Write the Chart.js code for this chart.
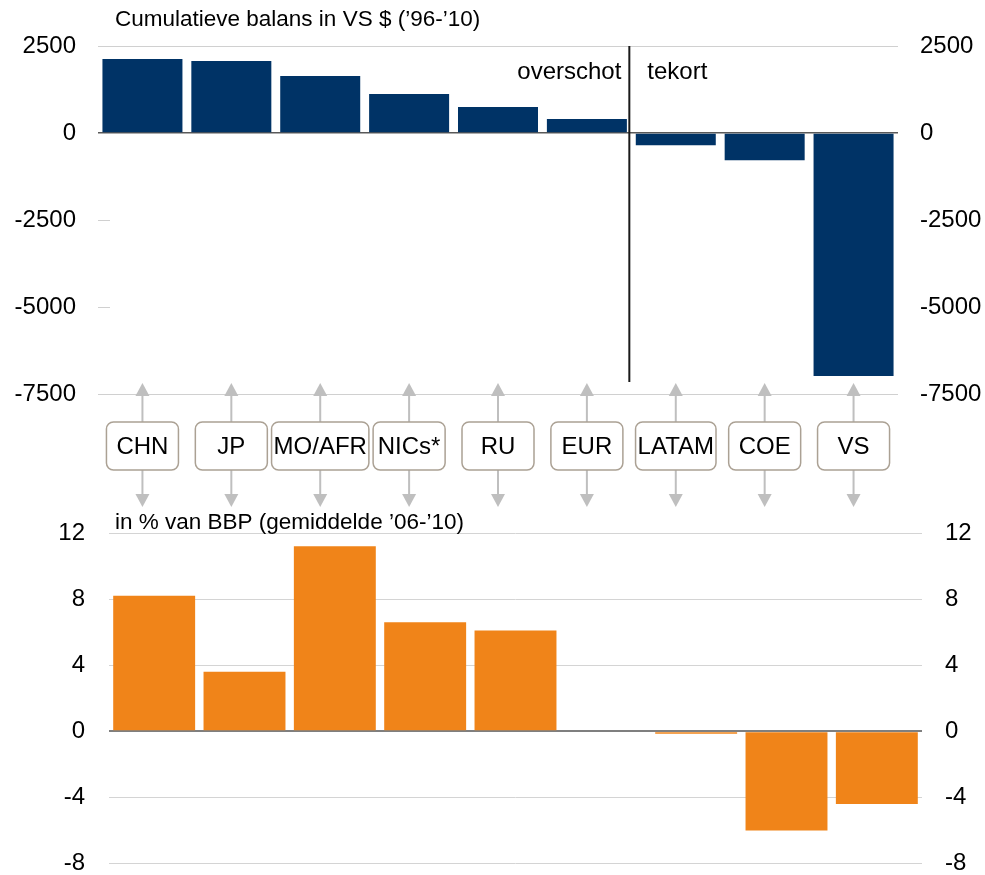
<!DOCTYPE html>
<html>
<head>
<meta charset="utf-8">
<title>Balans</title>
<script src="https://cdn.jsdelivr.net/npm/chart.js@4"></script>
<style>
  body { margin: 0; background: #fff; overflow: hidden; }
  #wrap { position: relative; width: 985px; height: 875px; overflow: hidden; }
  canvas { position: absolute; left: 0; }
  #top { top: 0; }
  #bottom { top: 505px; }
</style>
</head>
<body>
<div id="wrap">
  <canvas id="top" width="985" height="508"></canvas>
  <canvas id="bottom" width="985" height="373"></canvas>
</div>
<script>
// regio's (zelfde volgorde in beide grafieken)
const regios = ['CHN', 'JP', 'MO/AFR', 'NICs*', 'RU', 'EUR', 'LATAM', 'COE', 'VS'];
// cumulatieve balans in VS $ ('96-'10)
const cumBalans = [2130, 2070, 1640, 1120, 750, 400, -350, -780, -6980];
// in % van BBP (gemiddelde '06-'10)
const pctBBP = [8.2, 3.6, 11.2, 6.6, 6.1, 0, -0.15, -6.0, -4.4];
const tickBoven = [2500, 0, -2500, -5000, -7500];
const tickOnder = [12, 8, 4, 0, -4, -8];

const titelBoven = 'Cumulatieve balans in VS $ (\u201996-\u201910)';
const titelOnder = 'in % van BBP (gemiddelde \u201906-\u201910)';

Chart.defaults.font.family = "'Liberation Sans', Arial, sans-serif";
Chart.defaults.color = '#000';

const FONT = "24px 'Liberation Sans', Arial, sans-serif";
const FONT_TITEL = "22.5px 'Liberation Sans', Arial, sans-serif";

// vaste breedte voor de y-assen zodat het plotgebied klopt
const vasteBreedte = w => (scale) => { scale.width = w; };

function yAs(pos, min, max, ticks, breedte, afstand, gridKleur, gridDikte) {
  return {
    position: pos,
    min: min, max: max,
    afterFit: vasteBreedte(breedte),
    afterBuildTicks: (s) => { s.ticks = ticks.map(v => ({ value: v })); },
    border: { display: false },
    grid: {
      drawOnChartArea: pos === 'left',
      drawTicks: true,
      tickLength: afstand,     // onzichtbaar, alleen voor de afstand tot de labels
      tickColor: 'rgba(0,0,0,0)',
      color: gridKleur,
      lineWidth: gridDikte
    },
    ticks: {
      padding: 0,
      font: { size: 24 },
      color: '#000',
      callback: v => String(v)
    }
  };
}

// titel, scheidingslijn, labels en pijlen voor de bovenste grafiek
const bovenPlugin = {
  id: 'bovenExtra',
  afterDraw(chart) {
    const ctx = chart.ctx;
    const area = chart.chartArea;
    const xs = chart.scales.x;
    const ys = chart.scales.y;
    ctx.save();

    // titel
    ctx.font = FONT_TITEL;
    ctx.fillStyle = '#000';
    ctx.textBaseline = 'middle';
    ctx.textAlign = 'left';
    ctx.fillText(titelBoven, 115, 20);

    // kleine tickjes
    ctx.strokeStyle = '#d0d0d0';
    ctx.lineWidth = 1;
    [-2500, -5000].forEach(v => {
      const y = Math.round(ys.getPixelForValue(v)) + 0.5;
      ctx.beginPath();
      ctx.moveTo(area.left, y);
      ctx.lineTo(area.left + 12, y);
      ctx.stroke();
    });

    // scheiding overschot / tekort
    const sx = (xs.getPixelForValue(5) + xs.getPixelForValue(6)) / 2 - 2;
    ctx.strokeStyle = '#1a1a1a';
    ctx.lineWidth = 2;
    ctx.beginPath();
    ctx.moveTo(sx, area.top);
    ctx.lineTo(sx, area.bottom - 12);
    ctx.stroke();

    ctx.font = FONT;
    ctx.fillStyle = '#000';
    ctx.textAlign = 'right';
    ctx.fillText('overschot', sx - 8, 72);
    ctx.textAlign = 'left';
    ctx.fillText('tekort', sx + 18, 72);

    // labels met pijlen
    const boxTop = area.bottom + 28;
    const boxBot = area.bottom + 76;
    regios.forEach((r, i) => {
      const cx = xs.getPixelForValue(i);
      ctx.font = FONT;
      const w = Math.max(72, ctx.measureText(r).width + 4);

      // pijlen
      ctx.strokeStyle = '#bfbfbf';
      ctx.fillStyle = '#bfbfbf';
      ctx.lineWidth = 2;
      ctx.beginPath();
      ctx.moveTo(cx, boxTop);
      ctx.lineTo(cx, area.bottom + 1);
      ctx.moveTo(cx, boxBot);
      ctx.lineTo(cx, boxBot + 25);
      ctx.stroke();
      ctx.beginPath();
      ctx.moveTo(cx, area.bottom - 11);
      ctx.lineTo(cx - 7, area.bottom + 2);
      ctx.lineTo(cx + 7, area.bottom + 2);
      ctx.closePath();
      ctx.fill();
      ctx.beginPath();
      ctx.moveTo(cx, boxBot + 37);
      ctx.lineTo(cx - 7, boxBot + 24);
      ctx.lineTo(cx + 7, boxBot + 24);
      ctx.closePath();
      ctx.fill();

      // kader
      ctx.fillStyle = '#fff';
      ctx.strokeStyle = '#aba194';
      ctx.lineWidth = 1.5;
      ctx.beginPath();
      ctx.roundRect(cx - w / 2, boxTop, w, boxBot - boxTop, 7);
      ctx.fill();
      ctx.stroke();

      ctx.fillStyle = '#000';
      ctx.textAlign = 'center';
      ctx.textBaseline = 'middle';
      ctx.fillText(r, cx, (boxTop + boxBot) / 2 + 1);
    });
    ctx.restore();
  }
};

const onderPlugin = {
  id: 'onderExtra',
  afterDraw(chart) {
    const ctx = chart.ctx;
    ctx.save();
    ctx.font = FONT_TITEL;
    ctx.fillStyle = '#000';
    ctx.textBaseline = 'middle';
    ctx.textAlign = 'left';
    ctx.fillText(titelOnder, 115, 18);
    ctx.restore();
  }
};

new Chart(document.getElementById('top'), {
  type: 'bar',
  data: {
    labels: regios,
    datasets: [{
      data: cumBalans,
      backgroundColor: '#003366',
      borderWidth: 0,
      categoryPercentage: 1,
      barPercentage: 0.9
    }]
  },
  options: {
    responsive: false,
    animation: false,
    layout: { padding: { top: 46, bottom: 508 - 394, left: 0, right: 0 } },
    plugins: { legend: { display: false }, tooltip: { enabled: false } },
    scales: {
      x: { display: false },
      y: yAs('left', -7500, 2500, tickBoven, 98, 22,
        c => c.tick.value === 0 ? '#595959' : (c.tick.value === 2500 || c.tick.value === -7500 ? '#d0d0d0' : 'rgba(0,0,0,0)'),
        c => c.tick.value === 0 ? 1.5 : 1),
      y2: yAs('right', -7500, 2500, tickBoven, 87, 22, '#d0d0d0', 1)
    }
  },
  plugins: [bovenPlugin]
});

new Chart(document.getElementById('bottom'), {
  type: 'bar',
  data: {
    labels: regios,
    datasets: [{
      data: pctBBP,
      backgroundColor: '#f08419',
      borderWidth: 0,
      categoryPercentage: 1,
      barPercentage: 0.907
    }]
  },
  options: {
    responsive: false,
    animation: false,
    layout: { padding: { top: 28, bottom: 12, left: 0, right: 0 } },
    plugins: { legend: { display: false }, tooltip: { enabled: false } },
    scales: {
      x: { display: false },
      y: yAs('left', -8, 12, tickOnder, 109, 24,
        c => c.tick.value === 0 ? '#7f7f7f' : '#d4d4d4',
        c => c.tick.value === 0 ? 2 : 1),
      y2: yAs('right', -8, 12, tickOnder, 63, 23, '#d4d4d4', 1)
    }
  },
  plugins: [onderPlugin]
});
</script>
</body>
</html>
